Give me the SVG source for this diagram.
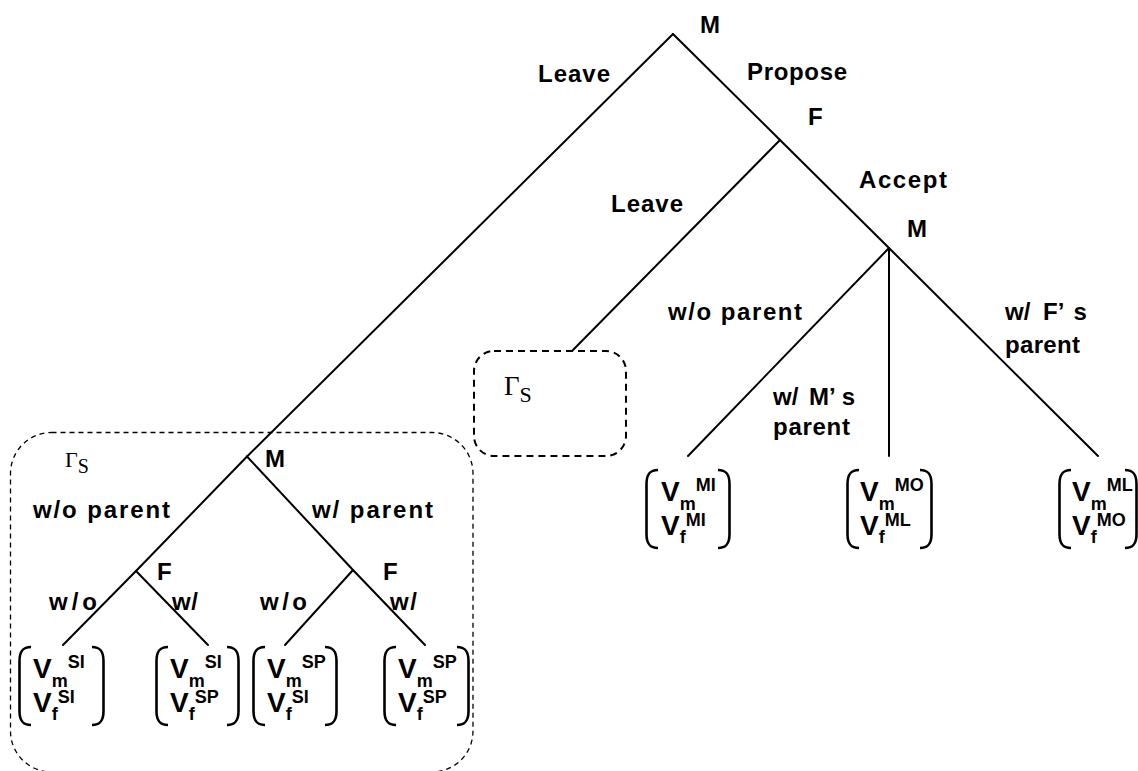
<svg xmlns="http://www.w3.org/2000/svg" width="1138" height="771" viewBox="0 0 1138 771">
<defs>
<style>
.lbl{font-family:"Liberation Sans",Arial,sans-serif;font-weight:bold;font-size:24px;fill:#000}
.v{font-family:"Liberation Sans",Arial,sans-serif;font-weight:bold;font-size:28px;fill:#000}
.s{font-size:18px}
.g{font-family:"Liberation Serif","Times New Roman",serif;fill:#000}
.edge{stroke:#000;stroke-width:2;fill:none;stroke-linecap:round}
.par{stroke:#000;stroke-width:2.6;fill:none}
.boxA{stroke:#000;stroke-width:1.3;fill:none;stroke-dasharray:5 4}
.boxB{stroke:#000;stroke-width:2;fill:none;stroke-dasharray:7 5}
</style>
</defs>
<rect width="1138" height="771" fill="#fff"/>

<g id="subgame-big">
<rect class="boxA" x="10.5" y="432.5" width="462.5" height="339.5" rx="41" ry="41"/>
<text class="g" x="65" y="467" font-size="22">Γ<tspan dy="6" font-size="20">S</tspan></text>
</g>
<g id="subgame-small">
<rect class="boxB" x="474" y="351" width="152" height="105" rx="20" ry="20"/>
<text class="g" x="504" y="395" font-size="27">Γ<tspan dy="7" font-size="22">S</tspan></text>
</g>

<g id="connectors">
<path class="edge" d="M673,34 L247,456.5"/>
<path class="edge" d="M673,34 L780,140 L889,248"/>
<path class="edge" d="M780,140 L572,351"/>
<path class="edge" d="M889,248 L688,456"/>
<path class="edge" d="M889,248 L889,456"/>
<path class="edge" d="M889,248 L1098,456"/>
<path class="edge" d="M247,456.5 L136,571 L63,645"/>
<path class="edge" d="M247,456.5 L353,570 L425,645"/>
<path class="edge" d="M136,571 L208,645"/>
<path class="edge" d="M353,570 L285,645"/>
</g>

<g id="edge-labels">
<text class="lbl" x="538" y="82" textLength="72">Leave</text>
<text class="lbl" x="747" y="80" textLength="100">Propose</text>
<text class="lbl" x="611" y="212" textLength="72">Leave</text>
<text class="lbl" x="859" y="188" textLength="88">Accept</text>
<text class="lbl" x="668" y="320" textLength="134">w/o parent</text>
<text class="lbl" x="773" y="405">w/ <tspan dx="4">M</tspan>’<tspan dx="7">s</tspan></text>
<text class="lbl" x="773" y="435" textLength="77">parent</text>
<text class="lbl" x="1005" y="320">w/ <tspan dx="6">F</tspan>’<tspan dx="10">s</tspan></text>
<text class="lbl" x="1005" y="353" textLength="75">parent</text>
<text class="lbl" x="33" y="518" textLength="137">w/o parent</text>
<text class="lbl" x="312" y="518" textLength="121">w/ parent</text>
<text class="lbl" x="49" y="610" textLength="48">w/o</text>
<text class="lbl" x="172" y="610" textLength="26">w/</text>
<text class="lbl" x="260" y="610" textLength="47">w/o</text>
<text class="lbl" x="390" y="610" textLength="27">w/</text>
</g>

<g id="node-M-root"><text class="lbl" x="700" y="33">M</text></g>
<g id="node-F-propose"><text class="lbl" x="808" y="125">F</text></g>
<g id="node-M-accept"><text class="lbl" x="907" y="237">M</text></g>
<g id="node-M-sub"><text class="lbl" x="265" y="467">M</text></g>
<g id="node-F-sub1"><text class="lbl" x="157" y="580">F</text></g>
<g id="node-F-sub2"><text class="lbl" x="383" y="580">F</text></g>

<g id="leaf-SI-SI">
<path class="par" d="M31,647 C23,647 19.5,651 19.5,661 V711 C19.5,721 23,725 31,725"/>
<path class="par" d="M92,647 C100,647 103.5,651 103.5,661 V711 C103.5,721 100,725 92,725"/>
<text class="v" x="33" y="678">V<tspan class="s" dy="9">m</tspan><tspan class="s" dy="-19">SI</tspan></text>
<text class="v" x="33" y="712">V<tspan class="s" dy="8">f</tspan><tspan class="s" dy="-17">SI</tspan></text>
</g>
<g id="leaf-SI-SP">
<path class="par" d="M168,647 C160,647 156.5,651 156.5,661 V711 C156.5,721 160,725 168,725"/>
<path class="par" d="M227,647 C235,647 238.5,651 238.5,661 V711 C238.5,721 235,725 227,725"/>
<text class="v" x="170" y="678">V<tspan class="s" dy="9">m</tspan><tspan class="s" dy="-19">SI</tspan></text>
<text class="v" x="170" y="712">V<tspan class="s" dy="8">f</tspan><tspan class="s" dy="-17">SP</tspan></text>
</g>
<g id="leaf-SP-SI">
<path class="par" d="M265,647 C257,647 253.5,651 253.5,661 V711 C253.5,721 257,725 265,725"/>
<path class="par" d="M325,647 C333,647 336.5,651 336.5,661 V711 C336.5,721 333,725 325,725"/>
<text class="v" x="267" y="678">V<tspan class="s" dy="9">m</tspan><tspan class="s" dy="-19">SP</tspan></text>
<text class="v" x="267" y="712">V<tspan class="s" dy="8">f</tspan><tspan class="s" dy="-17">SI</tspan></text>
</g>
<g id="leaf-SP-SP">
<path class="par" d="M396,647 C388,647 384.5,651 384.5,661 V711 C384.5,721 388,725 396,725"/>
<path class="par" d="M457,647 C465,647 468.5,651 468.5,661 V711 C468.5,721 465,725 457,725"/>
<text class="v" x="398" y="678">V<tspan class="s" dy="9">m</tspan><tspan class="s" dy="-19">SP</tspan></text>
<text class="v" x="398" y="712">V<tspan class="s" dy="8">f</tspan><tspan class="s" dy="-17">SP</tspan></text>
</g>

<g id="leaf-MI-MI">
<path class="par" d="M658,470 C650,470 646.5,474 646.5,484 V534 C646.5,544 650,548 658,548"/>
<path class="par" d="M718,470 C726,470 729.5,474 729.5,484 V534 C729.5,544 726,548 718,548"/>
<text class="v" x="661" y="501">V<tspan class="s" dy="9">m</tspan><tspan class="s" dy="-19">MI</tspan></text>
<text class="v" x="661" y="535">V<tspan class="s" dy="8">f</tspan><tspan class="s" dy="-17">MI</tspan></text>
</g>
<g id="leaf-MO-ML">
<path class="par" d="M859,470 C851,470 847.5,474 847.5,484 V534 C847.5,544 851,548 859,548"/>
<path class="par" d="M920,470 C928,470 931.5,474 931.5,484 V534 C931.5,544 928,548 920,548"/>
<text class="v" x="860" y="501">V<tspan class="s" dy="9">m</tspan><tspan class="s" dy="-19">MO</tspan></text>
<text class="v" x="860" y="535">V<tspan class="s" dy="8">f</tspan><tspan class="s" dy="-17">ML</tspan></text>
</g>
<g id="leaf-ML-MO">
<path class="par" d="M1071,470 C1063,470 1059.5,474 1059.5,484 V534 C1059.5,544 1063,548 1071,548"/>
<path class="par" d="M1125,470 C1133,470 1136.5,474 1136.5,484 V534 C1136.5,544 1133,548 1125,548"/>
<text class="v" x="1072" y="501">V<tspan class="s" dy="9">m</tspan><tspan class="s" dy="-19">ML</tspan></text>
<text class="v" x="1072" y="535">V<tspan class="s" dy="8">f</tspan><tspan class="s" dy="-17">MO</tspan></text>
</g>
</svg>
